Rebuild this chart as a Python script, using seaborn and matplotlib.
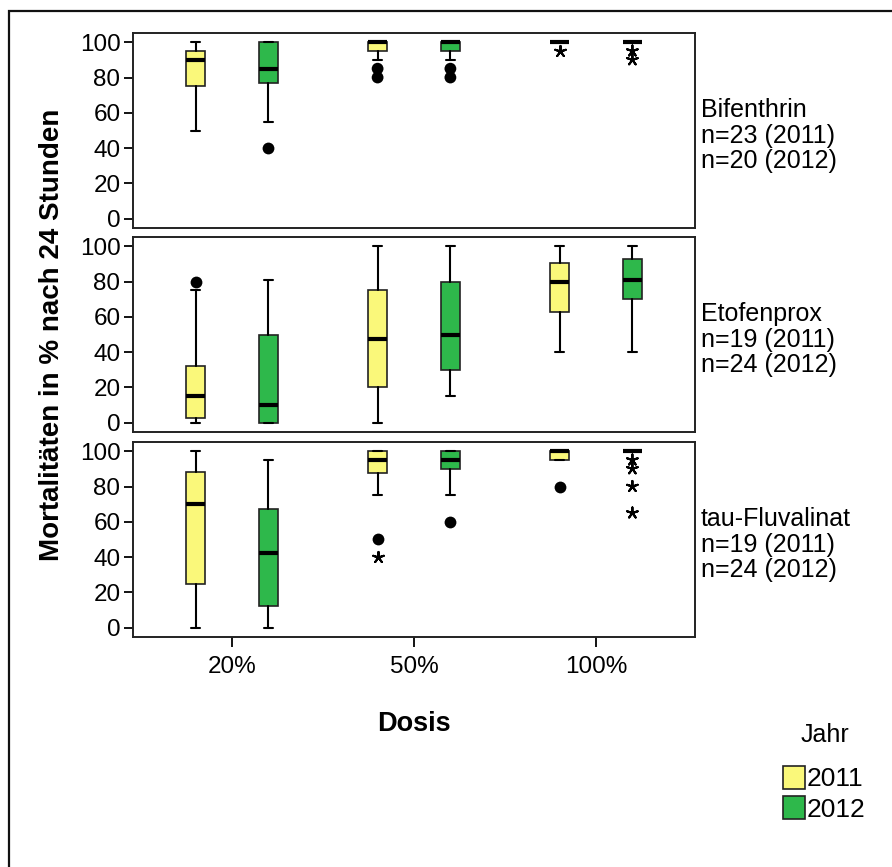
import numpy as np
import pandas as pd
import seaborn as sns
import matplotlib
matplotlib.use("Agg")
import matplotlib.pyplot as plt
from matplotlib.patches import Patch, Rectangle

sns.set_style("ticks")
plt.rcParams["font.family"] = ["Liberation Sans", "DejaVu Sans"]
plt.rcParams["text.color"] = "black"
plt.rcParams["axes.labelcolor"] = "black"
plt.rcParams["xtick.color"] = "black"
plt.rcParams["ytick.color"] = "black"

# --- data ---
doses = ["20%", "50%", "100%"]
years = ["2011", "2012"]
substances = ["Bifenthrin", "Etofenprox", "tau-Fluvalinat"]
n_2011 = [23, 19, 19]
n_2012 = [20, 24, 24]

# order of each list: 20%/2011, 20%/2012, 50%/2011, 50%/2012, 100%/2011, 100%/2012
bif_lo = [50, 55, 90, 90, 100, 100]
bif_q1 = [75, 77, 95, 95, 100, 100]
bif_med = [90, 85, 100, 100, 100, 100]
bif_q3 = [95, 100, 100, 100, 100, 100]
bif_hi = [100, 100, 100, 100, 100, 100]

eto_lo = [0, 0, 0, 15, 40, 40]
eto_q1 = [3, 0, 20, 30, 62.5, 70]
eto_med = [15, 10, 47.5, 50, 80, 81]
eto_q3 = [32, 50, 75, 80, 90.5, 92.5]
eto_hi = [75, 81, 100, 100, 100, 100]

tau_lo = [0, 0, 75, 75, 95, 100]
tau_q1 = [25, 12.5, 87.5, 90, 95, 100]
tau_med = [70, 42.5, 95, 95, 100, 100]
tau_q3 = [88, 67.5, 100, 100, 100, 100]
tau_hi = [100, 95, 100, 100, 100, 100]

# outliers: substance, dose, year, value, kind (o = outlier, * = extreme)
out_subst = ["Bifenthrin"] * 8 + ["Etofenprox"] + ["tau-Fluvalinat"] * 8
out_dose = ["20%", "50%", "50%", "50%", "50%", "100%", "100%", "100%",
            "20%",
            "50%", "50%", "50%", "100%", "100%", "100%", "100%", "100%"]
out_year = ["2012", "2011", "2011", "2012", "2012", "2011", "2012", "2012",
            "2011",
            "2011", "2011", "2012", "2011", "2012", "2012", "2012", "2012"]
out_value = [40, 85, 80, 85, 80, 95, 95, 90,
             80,
             50, 40, 60, 80, 95, 90, 80, 65]
out_kind = ["o", "o", "o", "o", "o", "*", "*", "*",
            "o",
            "o", "*", "o", "o", "*", "*", "*", "*"]

stats_by_subst = {
    "Bifenthrin": (bif_lo, bif_q1, bif_med, bif_q3, bif_hi),
    "Etofenprox": (eto_lo, eto_q1, eto_med, eto_q3, eto_hi),
    "tau-Fluvalinat": (tau_lo, tau_q1, tau_med, tau_q3, tau_hi),
}

outliers = pd.DataFrame({"substance": out_subst, "dose": out_dose, "year": out_year,
                         "value": out_value, "kind": out_kind})

year_colors = {"2011": "#FAF87A", "2012": "#2EB84B"}
offset = 0.2

W, H = 892, 867
fig = plt.figure(figsize=(W / 100, H / 100), dpi=100)

ax_left = 133 / W
ax_w = (695 - 133) / W
panel_px = [(33, 228), (237, 432), (442, 637)]

axes = []
for k, subst in enumerate(substances):
    top, bot = panel_px[k]
    ax = fig.add_axes([ax_left, 1 - bot / H, ax_w, (bot - top) / H])
    axes.append(ax)

    lo, q1, med, q3, hi = stats_by_subst[subst]
    stats, positions, colors = [], [], []
    i = 0
    for d_idx, d in enumerate(doses):
        for y_idx, y in enumerate(years):
            stats.append(dict(whislo=lo[i], q1=q1[i], med=med[i], q3=q3[i], whishi=hi[i]))
            positions.append(d_idx + (offset if y_idx else -offset))
            colors.append(year_colors[y])
            i += 1

    # outliers through seaborn (dodge puts hue levels at +-0.2)
    for kind, marker, size, lw in [("o", "o", 8.5, 0), ("*", (5, 2, 0), 8, 1.5)]:
        sub = outliers[(outliers["substance"] == subst) & (outliers["kind"] == kind)]
        if len(sub):
            sns.stripplot(data=sub, x="dose", y="value", hue="year", order=doses,
                          hue_order=years, palette={"2011": "black", "2012": "black"},
                          dodge=True, jitter=False, marker=marker, size=size,
                          linewidth=lw, edgecolor="black", legend=False, ax=ax)

    bp = ax.bxp(stats, positions=positions, widths=0.105, patch_artist=True,
                showfliers=False, manage_ticks=False,
                boxprops=dict(edgecolor="#222222", linewidth=1.2),
                medianprops=dict(color="black", linewidth=3, solid_capstyle="butt"),
                whiskerprops=dict(color="black", linewidth=1.5),
                capprops=dict(color="black", linewidth=1.5))
    for box, c in zip(bp["boxes"], colors):
        box.set_facecolor(c)

    ax.set_xlim(-0.544, 2.544)
    ax.set_ylim(-5.2, 105.2)
    ax.set_yticks([0, 20, 40, 60, 80, 100])
    ax.tick_params(axis="y", labelsize=17.5, length=6.5, width=1.3, pad=2.5, color="black")
    ax.set_xlabel("")
    ax.set_ylabel("")
    for sp in ax.spines.values():
        sp.set_visible(True)
        sp.set_color("#222222")
        sp.set_linewidth(1.4)
    if k < 2:
        ax.set_xticks([])
    else:
        ax.set_xticks(range(len(doses)))
        ax.set_xticklabels(doses)
        ax.tick_params(axis="x", labelsize=17.5, length=7.5, width=1.3, pad=6, color="black")

    ax.text(1.01, 0.474, f"{subst}\nn={n_2011[k]} (2011)\nn={n_2012[k]} (2012)",
            transform=ax.transAxes, ha="left", va="center", fontsize=18, linespacing=1.1)

fig.text(52 / W, 1 - 335 / H, "Mortalitäten in % nach 24 Stunden", rotation=90,
         ha="center", va="center", fontsize=20, fontweight="bold")
fig.text(414 / W, 1 - 724 / H, "Dosis", ha="center", va="center",
         fontsize=19.5, fontweight="bold")

fig.text(825 / W, 1 - 735 / H, "Jahr", ha="center", va="center", fontsize=18)
handles = [Patch(facecolor=year_colors[y], edgecolor="#222222", linewidth=1.2) for y in years]
leg = fig.legend(handles, years, loc="upper left",
                 bbox_to_anchor=(759 / W, 1 - 742 / H), frameon=False,
                 fontsize=19, handlelength=0.83, handleheight=0.95,
                 handletextpad=0.08, labelspacing=0.2)

fig.add_artist(Rectangle((9 / W, -0.1), 2.0, 1.1 - 11 / H, transform=fig.transFigure,
                         fill=False, edgecolor="#111111", linewidth=1.6, clip_on=False))

fig.savefig("out.png", dpi=100)
